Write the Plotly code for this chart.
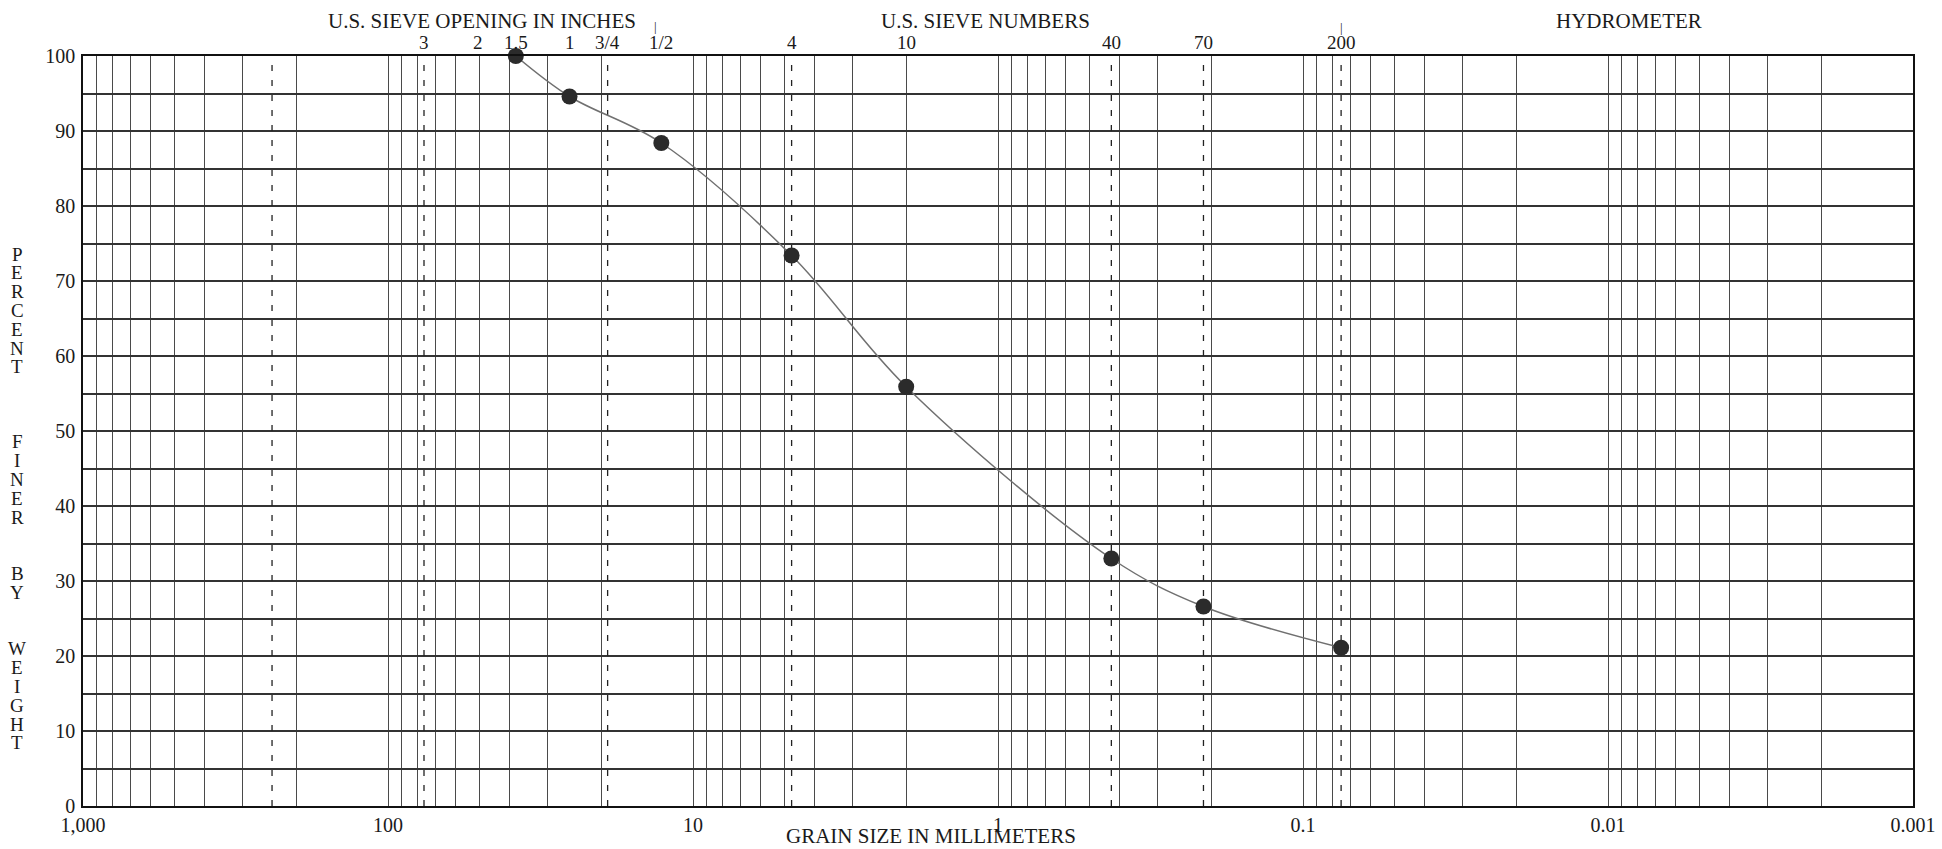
import numpy as np
import plotly.graph_objects as go

# ---- data ----
sieve_labels = ["1.5", "1", "1/2", "4", "10", "40", "70", "200"]
grain_size_mm = [38.1, 25.4, 12.7, 4.75, 2.0, 0.425, 0.212, 0.075]
percent_finer = [100.0, 94.6, 88.4, 73.4, 55.9, 33.0, 26.6, 21.1]

top_labels = ["3", "2", "1.5", "1", "3/4", "1/2", "4", "10", "40", "70", "200"]
top_label_mm = [76.2, 50.8, 38.1, 25.4, 19.05, 12.7, 4.75, 2.0, 0.425, 0.212, 0.075]

dashed_mm = [240.0, 76.2, 19.05, 4.75, 0.425, 0.212, 0.075]

decade_vals = [1000, 100, 10, 1, 0.1, 0.01, 0.001]
decade_text = ["1,000", "100", "10", "1", "0.1", "0.01", "0.001"]

y_ticks = list(range(0, 101, 5))
y_text = [str(v) if v % 10 == 0 else "" for v in y_ticks]

ytitle_letters = ["P", "E", "R", "C", "E", "N", "T", "", "", "",
                  "F", "I", "N", "E", "R", "", "",
                  "B", "Y", "", "",
                  "W", "E", "I", "G", "H", "T"]

FONT = "Liberation Serif"

# grid tick values: 1..9 x 10^k
x_tickvals, x_ticktext = [], []
for k in range(-3, 3):
    for m in range(1, 10):
        v = m * 10.0 ** k
        x_tickvals.append(v)
        x_ticktext.append("")
x_tickvals.append(1000.0)
x_ticktext.append("")
for v, t in zip(decade_vals, decade_text):
    for i, tv in enumerate(x_tickvals):
        if abs(np.log10(tv) - np.log10(v)) < 1e-9:
            x_ticktext[i] = t

fig = go.Figure()

# dashed boundary lines
for d in dashed_mm:
    fig.add_trace(go.Scatter(
        x=[d, d], y=[0, 100], mode="lines",
        line=dict(color="#222", width=1.3, dash="6px,9px"),
        hoverinfo="skip", showlegend=False))

# gradation curve
fig.add_trace(go.Scatter(
    x=grain_size_mm, y=percent_finer, mode="lines+markers",
    line=dict(color="#707070", width=1.5, shape="spline", smoothing=1.0),
    marker=dict(color="#2b2b2b", size=16),
    cliponaxis=False, showlegend=False))

fig.update_xaxes(
    type="log", range=[3, -3],
    tickmode="array", tickvals=x_tickvals, ticktext=x_ticktext,
    showgrid=True, gridcolor="#4a4a4a", gridwidth=1,
    showline=True, mirror=True, linecolor="#111", linewidth=1.5,
    ticks="", zeroline=False, ticklabelstandoff=0,
    tickfont=dict(family=FONT, size=20, color="#1a1a1a"),
)
fig.update_yaxes(
    range=[0, 100],
    tickmode="array", tickvals=y_ticks, ticktext=y_text,
    showgrid=True, gridcolor="#333", gridwidth=1.6,
    showline=True, mirror=True, linecolor="#111", linewidth=1.5,
    ticks="", zeroline=False, ticklabelstandoff=2,
    tickfont=dict(family=FONT, size=20, color="#1a1a1a"),
)

annotations = []
def px_y(ypx):
    return (806 - ypx) / 750.0
def px_x(xpx):
    return (xpx - 83) / 1830.0

# sieve labels above plot
for t, v in zip(top_labels, top_label_mm):
    annotations.append(dict(x=np.log10(v), y=px_y(43), xref="x", yref="paper",
                            text=t, showarrow=False, xanchor="center", yanchor="middle",
                            borderpad=0,
                            font=dict(family=FONT, size=19, color="#1a1a1a")))

# headers
annotations += [
    dict(x=px_x(482), y=px_y(21), text="U.S. SIEVE OPENING IN INCHES"),
    dict(x=px_x(985), y=px_y(21), text="U.S. SIEVE NUMBERS"),
    dict(x=px_x(1629), y=px_y(21), text="HYDROMETER"),
    dict(x=px_x(931), y=px_y(836), text="GRAIN SIZE IN MILLIMETERS"),
]
for a in annotations[-4:]:
    a.update(xref="paper", yref="paper", showarrow=False, xanchor="center",
             yanchor="middle", borderpad=0,
             font=dict(family=FONT, size=21, color="#1a1a1a"))

# small separator ticks
annotations.append(dict(x=px_x(653), y=px_y(18), xref="paper", yref="paper", text="|",
                        showarrow=False, borderpad=0,
                        font=dict(family=FONT, size=13, color="#1a1a1a")))
annotations.append(dict(x=np.log10(0.075), y=px_y(19), xref="x", yref="paper", text="|",
                        showarrow=False, borderpad=0,
                        font=dict(family=FONT, size=13, color="#1a1a1a")))

# vertical y-axis title
for i, ch in enumerate(ytitle_letters):
    if not ch:
        continue
    ypx = 254 + i * 18.8
    annotations.append(dict(x=px_x(17), y=px_y(ypx), xref="paper", yref="paper",
                            text=ch, showarrow=False, xanchor="center", yanchor="middle",
                            borderpad=0,
                            font=dict(family=FONT, size=19, color="#1a1a1a")))

fig.update_layout(
    width=1942, height=849,
    margin=dict(l=83, r=29, t=56, b=43, autoexpand=False),
    paper_bgcolor="white", plot_bgcolor="white",
    annotations=annotations, showlegend=False,
)

fig.write_html("out.html", config={"displayModeBar": False},
               post_script="document.body.style.margin='0';document.body.style.overflow='hidden';")
